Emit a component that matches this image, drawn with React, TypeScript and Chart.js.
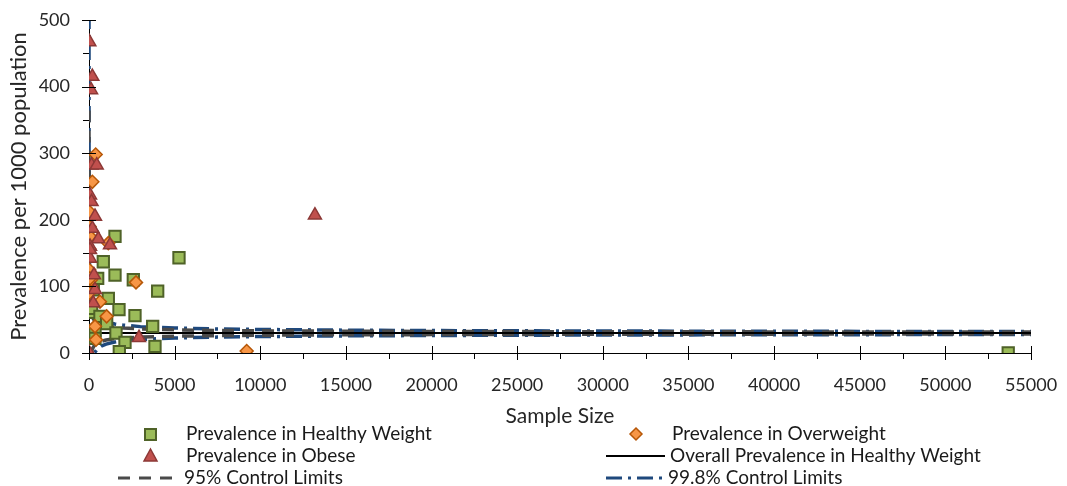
import React, { useEffect, useRef } from 'react';
import { Chart, registerables } from 'chart.js';
Chart.register(...registerables);

// ---- Data ----
const healthyX = [53670, 5254, 1518, 835, 506, 1518, 2587, 4010, 250, 1128, 58, 150, 1751, 2685, 640, 1030, 3717, 350, 1576, 2101, 3853, 1770, 350];
const healthyY = [0, 143, 175, 137, 112, 117, 110, 93, 95, 82, 61, 67, 65, 56, 55, 44, 40, 34, 30, 16, 10, 2, 22];

const overweightX = [390, 195, 20, 60, 20, 1128, 10, 2744, 10, 640, 1030, 350, 409, 9206, 120, 50, 30];
const overweightY = [298, 257, 212, 175, 156, 165, 125, 106, 90, 77, 55, 40, 20, 3, 110, 112, 190];

const obeseX = [20, 195, 120, 150, 450, 60, 150, 350, 195, 543, 1226, 60, 60, 290, 350, 250, 20, 2920, 13190, 60];
const obeseY = [467, 415, 395, 282, 282, 237, 227, 205, 187, 171, 162, 160, 142, 117, 95, 75, 0, 23, 207, 155];

const overallX = [0, 55000];
const overallY = [30, 30];

const limitN = [1, 2, 5, 10, 20, 50, 100, 200, 300, 500, 750, 1000, 1500, 2000, 3000, 5000, 7500, 10000, 15000, 20000, 30000, 40000, 55000];
const upper95 = [364, 266.2, 179.4, 135.6, 104.7, 77.2, 63.4, 53.6, 49.3, 44.9, 42.2, 40.6, 38.6, 37.5, 36.1, 34.7, 33.9, 33.3, 32.7, 32.4, 31.9, 31.7, 31.4];
const lower95 = [-304, -206.2, -119.4, -75.6, -44.7, -17.2, -3.4, 6.4, 10.7, 15.1, 17.8, 19.4, 21.4, 22.5, 23.9, 25.3, 26.1, 26.7, 27.3, 27.6, 28.1, 28.3, 28.6];
const upper998 = [557, 402.6, 265.7, 196.7, 147.8, 104.5, 82.7, 67.3, 60.4, 53.6, 49.2, 46.7, 43.6, 41.8, 39.6, 37.5, 36.1, 35.3, 34.3, 33.7, 33.0, 32.6, 32.2];
const lower998 = [-497, -342.6, -205.7, -136.7, -87.8, -44.5, -22.7, -7.3, -0.4, 6.4, 10.8, 13.3, 16.4, 18.2, 20.4, 22.5, 23.9, 24.7, 25.7, 26.3, 27.0, 27.4, 27.8];

const xMax = 55000;
const xStep = 5000;
const yMax = 500;
const yStep = 100;

const legendLabels = [
  'Prevalence in Healthy Weight',
  'Prevalence in Overweight',
  'Prevalence in Obese',
  'Overall Prevalence in Healthy Weight',
  '95% Control Limits',
  '99.8% Control Limits',
];

const FONT = 'Lato, "Open Sans", sans-serif';
const GREEN = '#9BBB59', GREEN_B = '#4F6228';
const ORANGE = '#F79646', ORANGE_B = '#B65708';
const RED = '#C0504D', RED_B = '#8C3836';
const GRAY = '#4A4A4A';
const BLUE = '#1F497D';

const pts = (xs: number[], ys: number[]) => xs.map((x, i) => ({ x, y: ys[i] }));

const decorPlugin = {
  id: 'decor',
  afterDraw(chart: any) {
    const ctx = chart.ctx as CanvasRenderingContext2D;
    const xs = chart.scales.x;
    const ys = chart.scales.y;
    const x0 = xs.getPixelForValue(0);
    const y0 = ys.getPixelForValue(0);
    ctx.save();
    ctx.strokeStyle = '#000';
    ctx.lineWidth = 1;
    ctx.beginPath();
    for (let v = 0; v <= xMax; v += xStep / 2) {
      const px = Math.round(xs.getPixelForValue(v)) + 0.5;
      if (v % xStep === 0) { ctx.moveTo(px, y0 - 7); ctx.lineTo(px, y0 + 7); }
      else { ctx.moveTo(px, y0); ctx.lineTo(px, y0 + 6); }
    }
    for (let v = 0; v <= yMax; v += yStep / 2) {
      const py = Math.round(ys.getPixelForValue(v)) + 0.5;
      if (v % yStep === 0) { ctx.moveTo(x0 - 7, py); ctx.lineTo(x0 + 7, py); }
      else { ctx.moveTo(x0 - 6, py); ctx.lineTo(x0, py); }
    }
    ctx.stroke();

    // legend
    const rows = [434, 456, 478];
    ctx.font = '19px ' + FONT;
    ctx.textBaseline = 'middle';
    ctx.textAlign = 'left';
    // square
    ctx.fillStyle = GREEN; ctx.strokeStyle = GREEN_B; ctx.lineWidth = 2;
    ctx.fillRect(145, rows[0] - 5, 11, 11); ctx.strokeRect(145, rows[0] - 5, 11, 11);
    // triangle
    ctx.fillStyle = RED; ctx.strokeStyle = RED_B; ctx.lineWidth = 1.5;
    ctx.beginPath(); ctx.moveTo(150.5, rows[1] - 7); ctx.lineTo(157, rows[1] + 5); ctx.lineTo(144, rows[1] + 5); ctx.closePath(); ctx.fill(); ctx.stroke();
    // diamond
    ctx.fillStyle = ORANGE; ctx.strokeStyle = ORANGE_B; ctx.lineWidth = 1.5;
    ctx.beginPath(); ctx.moveTo(636, rows[0] - 6); ctx.lineTo(642, rows[0]); ctx.lineTo(636, rows[0] + 6); ctx.lineTo(630, rows[0]); ctx.closePath(); ctx.fill(); ctx.stroke();
    // black line
    ctx.strokeStyle = '#000'; ctx.lineWidth = 2; ctx.setLineDash([]);
    ctx.beginPath(); ctx.moveTo(606, rows[1]); ctx.lineTo(665, rows[1]); ctx.stroke();
    // gray dash
    ctx.strokeStyle = GRAY; ctx.lineWidth = 3; ctx.setLineDash([12, 9]);
    ctx.beginPath(); ctx.moveTo(118, rows[2]); ctx.lineTo(180, rows[2]); ctx.stroke();
    // blue dash dot
    ctx.strokeStyle = BLUE; ctx.lineWidth = 3; ctx.setLineDash([16, 6, 3, 6]);
    ctx.beginPath(); ctx.moveTo(606, rows[2]); ctx.lineTo(665, rows[2]); ctx.stroke();
    ctx.setLineDash([]);

    ctx.fillStyle = '#1a1a1a';
    ctx.fillText(legendLabels[0], 186, rows[0]);
    ctx.fillText(legendLabels[1], 672, rows[0]);
    ctx.fillText(legendLabels[2], 186, rows[1]);
    ctx.fillText(legendLabels[3], 670, rows[1]);
    ctx.fillText(legendLabels[4], 184, rows[2]);
    ctx.fillText(legendLabels[5], 668, rows[2]);
    ctx.restore();
  },
};

export default function App() {
  const ref = useRef<HTMLCanvasElement | null>(null);
  useEffect(() => {
    if (!ref.current) return;
    const chart = new Chart(ref.current, {
      type: 'scatter',
      data: {
        datasets: [
          {
            label: legendLabels[2], data: pts(obeseX, obeseY), order: 0,
            pointStyle: 'triangle', pointRadius: 7.5, backgroundColor: RED, borderColor: RED_B, borderWidth: 1.5,
          },
          {
            label: legendLabels[1], data: pts(overweightX, overweightY), order: 1,
            pointStyle: 'rectRot', pointRadius: 6.5, backgroundColor: ORANGE, borderColor: ORANGE_B, borderWidth: 1.5,
          },
          {
            label: legendLabels[0], data: pts(healthyX, healthyY), order: 2,
            pointStyle: 'rect', pointRadius: 8, backgroundColor: GREEN, borderColor: GREEN_B, borderWidth: 2,
          },
          {
            label: legendLabels[3], data: pts(overallX, overallY), order: 3, showLine: true,
            pointRadius: 0, borderColor: '#000', borderWidth: 2,
          },
          {
            label: legendLabels[4], data: pts(limitN, upper95), order: 4, showLine: true, tension: 0,
            pointRadius: 0, borderColor: GRAY, borderWidth: 3.5, borderDash: [12, 8],
          },
          {
            label: legendLabels[4], data: pts(limitN, lower95), order: 5, showLine: true,
            pointRadius: 0, borderColor: GRAY, borderWidth: 3.5, borderDash: [12, 8],
          },
          {
            label: legendLabels[5], data: pts(limitN, upper998), order: 6, showLine: true,
            pointRadius: 0, borderColor: BLUE, borderWidth: 3.5, borderDash: [16, 6, 3, 6],
          },
          {
            label: legendLabels[5], data: pts(limitN, lower998), order: 7, showLine: true,
            pointRadius: 0, borderColor: BLUE, borderWidth: 3.5, borderDash: [16, 6, 3, 6],
          },
        ],
      },
      options: {
        responsive: false,
        animation: false,
        layout: { padding: { top: 20, right: 36, bottom: 57, left: 0 } },
        plugins: { legend: { display: false }, tooltip: { enabled: false } },
        scales: {
          x: {
            type: 'linear', min: 0, max: xMax,
            grid: { display: true, drawOnChartArea: false, drawTicks: true, tickLength: 18, tickColor: 'rgba(0,0,0,0)' },
            border: { display: true, color: '#000', width: 1 },
            ticks: {
              stepSize: xStep, autoSkip: false, maxRotation: 0, padding: 3, color: '#262626',
              font: { family: FONT, size: 18 }, callback: (v: any) => String(v),
            },
            title: { display: true, text: 'Sample Size', color: '#262626', font: { family: FONT, size: 21 }, padding: { top: 0, bottom: 0 } },
            afterFit: (s: any) => { s.height = 76; },
          },
          y: {
            type: 'linear', min: 0, max: yMax,
            grid: { display: true, drawOnChartArea: false, drawTicks: true, tickLength: 16, tickColor: 'rgba(0,0,0,0)' },
            border: { display: true, color: '#000', width: 1 },
            ticks: {
              stepSize: yStep, autoSkip: false, padding: 3, color: '#262626',
              font: { family: FONT, size: 18 }, callback: (v: any) => String(v),
            },
            title: { display: true, text: 'Prevalence per 1000 population', color: '#262626', font: { family: FONT, size: 22 }, padding: { top: 6, bottom: 0 } },
            afterFit: (s: any) => { s.width = 89; },
          },
        },
      },
      plugins: [decorPlugin],
    } as any);
    return () => chart.destroy();
  }, []);
  return (
    <div style={{ position: 'fixed', left: 0, top: 0, width: 1067, height: 486, background: '#fff' }}>
      <canvas ref={ref} width={1067} height={486} />
    </div>
  );
}
